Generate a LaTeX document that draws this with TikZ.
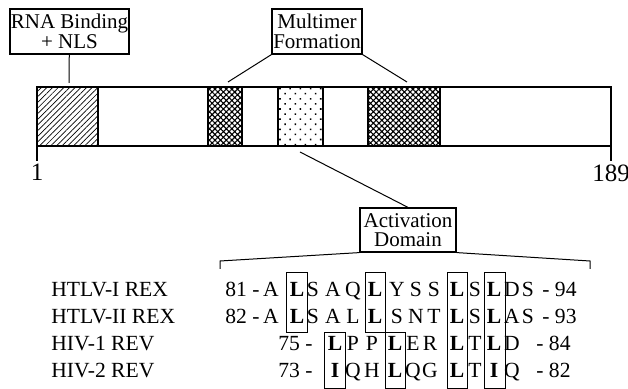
\documentclass[tikz,border=0pt]{standalone}
\usepackage{fontspec}
\setmainfont{Liberation Serif}
\usetikzlibrary{positioning,patterns.meta}

\tikzset{
    labelbox/.style={draw, line width=0.6pt, align=center, inner sep=0pt,
        font=\fontsize{10.5}{9.8}\selectfont},
    lead/.style={line width=0.5pt},
    seq/.style={inner sep=0pt, anchor=base, font=\fontsize{10.8}{12}\selectfont},
    resbox/.style={draw, line width=0.5pt},
    regionbox/.style={draw, line width=1pt},
}

\begin{document}
\begin{tikzpicture}[x=0.5pt, y=-0.5pt]
    \useasboundingbox (0,0) rectangle (628,389);

    % Protein bar and domains
    \draw[regionbox, pattern={Lines[angle=45, distance=2pt, line width=0.35pt]}] (37,87) rectangle (98,146);
    \draw[regionbox, pattern={Hatch[angle=45, distance=2pt, line width=0.55pt]}] (208,87) rectangle (242,146);
    \draw[regionbox, pattern={Dots[angle=45, distance=3.6pt, radius=0.55pt]}] (278,87) rectangle (323,146);
    \draw[regionbox, pattern={Hatch[angle=45, distance=2pt, line width=0.55pt]}] (368,87) rectangle (440,146);
    \draw[regionbox] (37,87) rectangle (611,146);

    % Ends and residue numbers
    \coordinate (tick-a) at (37,161);
    \coordinate (tick-b) at (611,161);
    \draw[line width=1pt] (37,146) -- (tick-a);
    \draw[line width=1pt] (611,146) -- (tick-b);
    \node[below=1.5pt of tick-a, inner sep=0pt, font=\fontsize{12.5}{13}\selectfont] (num-a) {1};
    \node[below=1.5pt of tick-b, inner sep=0pt, font=\fontsize{12.5}{13}\selectfont] (num-b) {189};

    % Labels
    \node[labelbox, minimum width=59.5pt, minimum height=22.5pt] (rna) at (69.5,31.5) {RNA Binding\\+ NLS};
    \node[labelbox, minimum width=45pt, minimum height=22.5pt] (multi) at (317,31.5) {Multimer\\Formation};
    \node[labelbox, minimum width=48pt, minimum height=22pt] (act) at (408,230) {Activation\\Domain};

    % Leaders
    \coordinate (rna-tip) at (69,83);
    \coordinate (multi-l) at (228,82);
    \coordinate (multi-r) at (407,82);
    \coordinate (act-tip) at (300,152);
    \draw[lead] (rna) -- (rna-tip);
    \draw[lead] (multi.south west) -- (multi-l);
    \draw[lead] (multi.south east) -- (multi-r);
    \draw[lead] (act.north) -- (act-tip);

    % Bracket
    \coordinate (br-l) at (220,261);
    \coordinate (br-r) at (590,261);
    \draw[lead] (act.south west) -- (br-l) -- ++(0,8);
    \draw[lead] (act.south east) -- (br-r) -- ++(0,8);

    % Names
    \node[seq, anchor=base west] (name1) at (51,297) {HTLV-I REX};
    \node[seq, anchor=base west] (name2) at (51,324) {HTLV-II REX};
    \node[seq, anchor=base west] (name3) at (51,351) {HIV-1 REV};
    \node[seq, anchor=base west] (name4) at (51,378) {HIV-2 REV};

    % Sequences
    \node[seq, anchor=base west] (s1-start) at (225,297) {81 -};
    \foreach \x/\c [count=\i] in {271/A,297/{\textbf{L}},313/S,333/A,353/Q,375/{\textbf{L}},397/Y,416/S,434/S,457/{\textbf{L}},475/S,494/{\textbf{L}},512/D,528/S}
        \node[seq] (s1-\i) at (\x,297) {\c};
    \node[seq, anchor=base west] (s1-end) at (542,297) {- 94};

    \node[seq, anchor=base west] (s2-start) at (225,324) {82 -};
    \foreach \x/\c [count=\i] in {271/A,297/{\textbf{L}},313/S,333/A,353/L,375/{\textbf{L}},397/S,416/N,434/T,457/{\textbf{L}},475/S,494/{\textbf{L}},512/A,528/S}
        \node[seq] (s2-\i) at (\x,324) {\c};
    \node[seq, anchor=base west] (s2-end) at (542,324) {- 93};

    \node[seq, anchor=base west] (s3-start) at (278,351) {75 -};
    \foreach \x/\c [count=\i] in {335/{\textbf{L}},353/P,372/P,395/{\textbf{L}},413/E,430/R,457/{\textbf{L}},475/T,494/{\textbf{L}},512/D}
        \node[seq] (s3-\i) at (\x,351) {\c};
    \node[seq, anchor=base west] (s3-end) at (536,351) {- 84};

    \node[seq, anchor=base west] (s4-start) at (278,378) {73 -};
    \foreach \x/\c [count=\i] in {335/{\textbf{I}},353/Q,372/H,395/{\textbf{L}},413/Q,430/G,457/{\textbf{L}},475/T,494/{\textbf{I}},512/Q}
        \node[seq] (s4-\i) at (\x,378) {\c};
    \node[seq, anchor=base west] (s4-end) at (536,378) {- 82};

    % Conserved residues
    \draw[resbox] (286,273) rectangle (307,333);
    \draw[resbox] (365,273) rectangle (385,333);
    \draw[resbox] (324,333) rectangle (345,389);
    \draw[resbox] (385,333) rectangle (405,389);
    \draw[resbox] (447,273) rectangle (467,389);
    \draw[resbox] (484,273) rectangle (505,389);
\end{tikzpicture}
\end{document}
